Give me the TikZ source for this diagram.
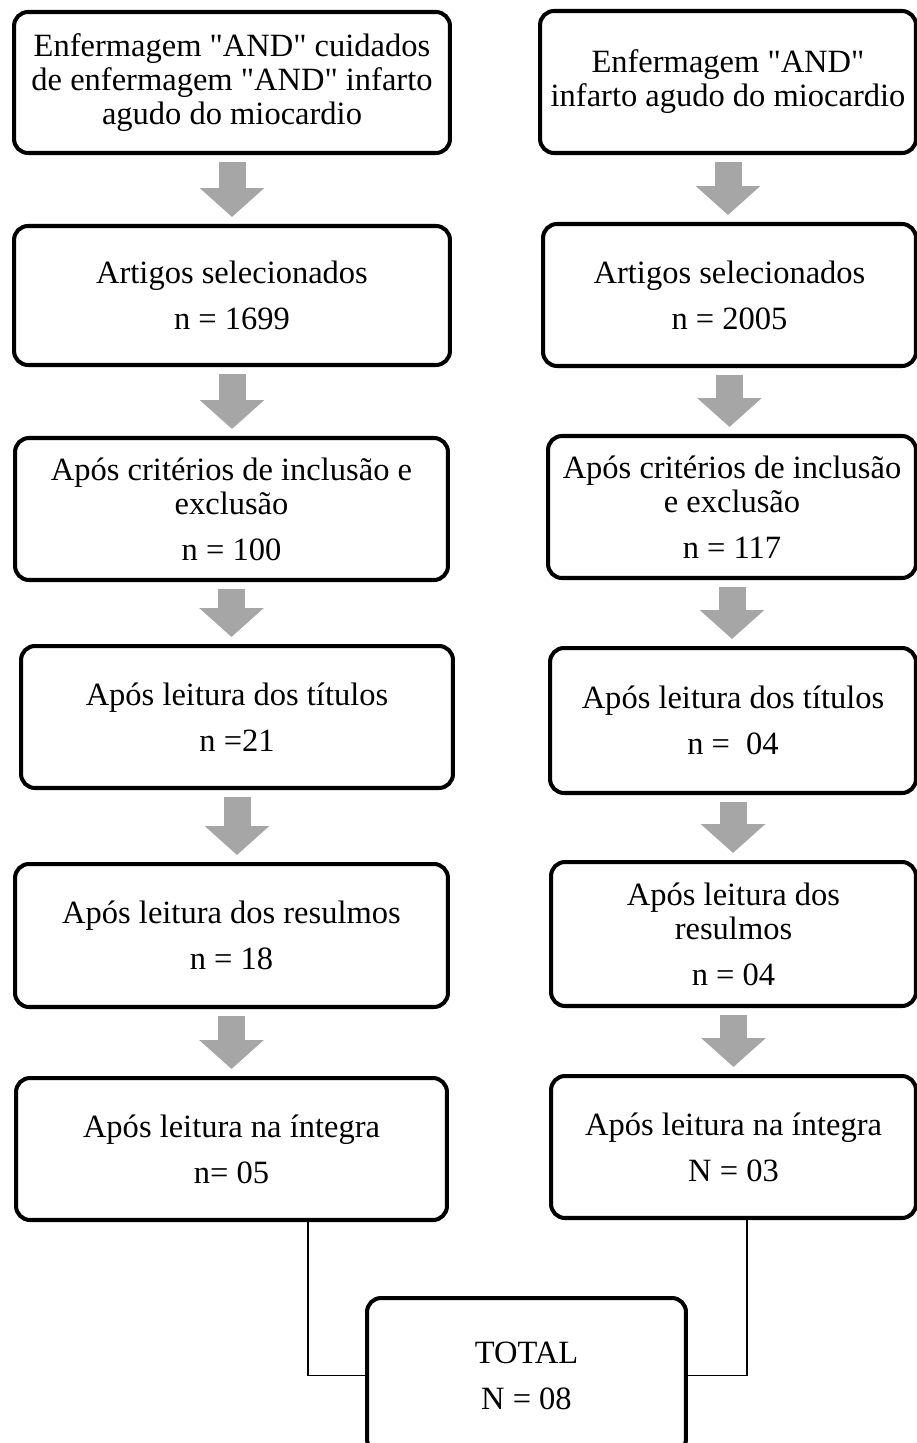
\documentclass[tikz,border=0pt]{standalone}
\usepackage{fontspec}
\setmainfont{Liberation Serif}[Ligatures=TeXOff]
\usetikzlibrary{arrows.meta,positioning}
\definecolor{flowgrey}{HTML}{A6A6A6}
\tikzset{
  box/.style        = {draw, line width=2.3pt, rounded corners=0.28cm, fill=white,
                       align=center, inner sep=2pt},
  flow/.style       = {flowgrey, line width=0.54cm,
                       -{Triangle[length=0.58cm, width=1.26cm]},
                       shorten <=0.14cm, shorten >=0.14cm},
  link/.style       = {line width=0.75pt},
  every node/.style = {font=\fontsize{18.5pt}{19.4pt}\selectfont},
}
\newcommand{\gap}{\\[0.24cm]}

\begin{document}
\begin{tikzpicture}[x=0.02cm,y=-0.02cm]
  \useasboundingbox (0,0) rectangle (916,1443);
  % left column
  \node[box, minimum width=8.72cm, minimum height=2.82cm] (l1) at (232,82.5)
    {Enfermagem "AND" cuidados\\ de enfermagem "AND" infarto\\ agudo do miocardio};
  \node[box, minimum width=8.72cm, minimum height=2.78cm] (l2) at (232,295.5)
    {Artigos selecionados\gap n = 1699};
  \node[box, minimum width=8.66cm, minimum height=2.84cm] (l3) at (231.5,509)
    {Após critérios de inclusão e\\ exclusão\gap n = 100};
  \node[box, minimum width=8.64cm, minimum height=2.84cm] (l4) at (237,717)
    {Após leitura dos títulos\gap n =21};
  \node[box, minimum width=8.66cm, minimum height=2.86cm] (l5) at (231.5,935.5)
    {Após leitura dos resulmos\gap n = 18};
  \node[box, minimum width=8.62cm, minimum height=2.84cm] (l6) at (231.5,1149)
    {Após leitura na íntegra\gap n= 05};
  % right column
  \node[box, minimum width=7.52cm, minimum height=2.84cm] (r1) at (728,82)
    {Enfermagem "AND"\\ infarto agudo do miocardio};
  \node[box, minimum width=7.46cm, minimum height=2.84cm] (r2) at (729.5,295)
    {Artigos selecionados\gap n = 2005};
  \node[box, minimum width=7.36cm, minimum height=2.84cm] (r3) at (732,507)
    {Após critérios de inclusão\\ e exclusão\gap n = 117};
  \node[box, minimum width=7.32cm, minimum height=2.90cm] (r4) at (733,720.5)
    {Após leitura dos títulos\gap n = \ 04};
  \node[box, minimum width=7.30cm, minimum height=2.88cm] (r5) at (733.5,934)
    {Após leitura dos\\ resulmos\gap n = 04};
  \node[box, minimum width=7.30cm, minimum height=2.84cm] (r6) at (733.5,1147)
    {Após leitura na íntegra\gap N = 03};
  % total
  \node[box, minimum width=6.38cm, minimum height=3.10cm] (tot) at (526.5,1375.5)
    {TOTAL\gap N = 08};
  % grey arrows
  \foreach \i/\j in {1/2,2/3,3/4,4/5,5/6} {
    \draw[flow] (l\i.south) -- (l\i.south |- l\j.north);
    \draw[flow] (r\i.south) -- (r\i.south |- r\j.north);
  }
  % lines to total
  \draw[link] ([xshift=1.53cm]l6.south) |- (tot.west);
  \draw[link] ([xshift=0.27cm]r6.south) |- (tot.east);
\end{tikzpicture}
\end{document}
